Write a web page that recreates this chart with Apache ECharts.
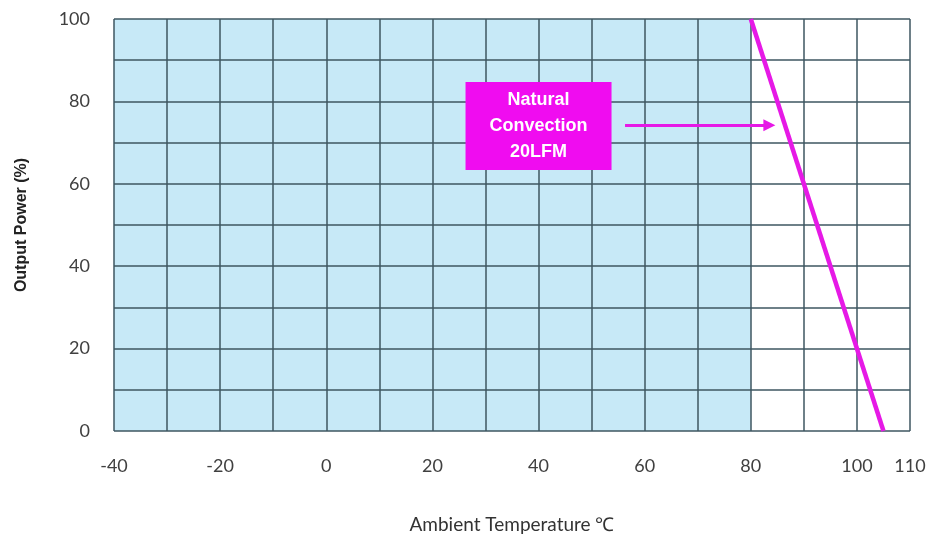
<!DOCTYPE html>
<html>
<head>
<meta charset="utf-8">
<script src="https://cdn.jsdelivr.net/npm/echarts@6/dist/echarts.min.js"></script>
<style>html,body{margin:0;padding:0;background:#fff}#c{width:938px;height:539px}</style>
</head>
<body>
<div id="c"></div>
<script>
// Data
const xTickLabels = [-40, -20, 0, 20, 40, 60, 80, 100, 110];
const yTickLabels = [0, 20, 40, 60, 80, 100];
const deratingCurve = [[80, 100], [105, 0]];   // Natural convection 20LFM
const shadedRange = [-40, 80];                   // full-power region
const annotationText = 'Natural\nConvection\n20LFM';
const annotationCenter = [40, 74];
const arrowFrom = [56.3, 74.2];
const arrowTo = [83.5, 74.2];

const chart = echarts.init(document.getElementById('c'));
const tickFont = {fontFamily: 'Lato', fontSize: 18, color: '#404040'};
chart.setOption({
  animation: false,
  grid: {left: 114, right: 28, top: 19, bottom: 107},
  xAxis: {
    type: 'value', min: -40, max: 110, interval: 10, z: 3,
    name: 'Ambient Temperature ℃', nameLocation: 'middle', nameGap: 84,
    nameTextStyle: {fontFamily: 'Lato', fontSize: 19, color: '#333'},
    axisLine: {show: false}, axisTick: {show: false},
    axisLabel: Object.assign({margin: 26, customValues: xTickLabels}, tickFont),
    splitLine: {show: true, lineStyle: {color: '#3e5661', width: 1.5}}
  },
  yAxis: {
    type: 'value', min: 0, max: 100, interval: 10, z: 3,
    name: 'Output Power (%)', nameLocation: 'middle', nameGap: 84,
    nameTextStyle: {fontFamily: 'Liberation Sans', fontSize: 16, fontWeight: 'bold', color: '#222'},
    axisLine: {show: false}, axisTick: {show: false},
    axisLabel: Object.assign({margin: 24, customValues: yTickLabels}, tickFont),
    splitLine: {show: true, lineStyle: {color: '#3e5661', width: 1.5}}
  },
  series: [
    {
      type: 'line', data: [], z: 1,
      markArea: {
        silent: true,
        itemStyle: {color: '#c7e9f7', opacity: 1},
        data: [[{xAxis: shadedRange[0], yAxis: 0}, {xAxis: shadedRange[1], yAxis: 100}]]
      }
    },
    {
      type: 'line', data: deratingCurve, symbol: 'none', z: 5,
      lineStyle: {color: '#e619e6', width: 4.5},
      markLine: {
        silent: true, symbol: ['none', 'triangle'], symbolSize: [12, 12],
        lineStyle: {color: '#e619e6', width: 3, type: 'solid'},
        label: {show: false},
        data: [[{coord: arrowFrom}, {coord: arrowTo}]]
      },
      markPoint: {
        silent: true,
        data: [{
          coord: annotationCenter, symbol: 'rect', symbolSize: [146, 88],
          itemStyle: {color: '#f00cf0'},
          label: {show: true, formatter: annotationText, color: '#fff',
            fontFamily: 'Liberation Sans', fontWeight: 'bold', fontSize: 18, lineHeight: 26}
        }]
      }
    }
  ]
});
</script>
</body>
</html>
